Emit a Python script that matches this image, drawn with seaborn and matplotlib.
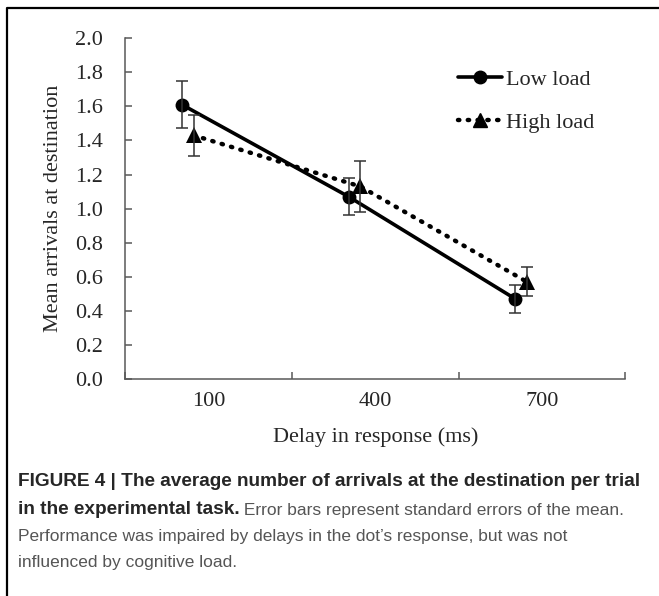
import numpy as np
import pandas as pd
import matplotlib
matplotlib.use("Agg")
import matplotlib.pyplot as plt
import seaborn as sns
from matplotlib.lines import Line2D

# ---------------------------------
# DATA
# ---------------------------------
delays = ["100", "400", "700"]
low_mean = [1.61, 1.07, 0.47]
low_se = [0.14, 0.11, 0.08]
high_mean = [1.43, 1.13, 0.57]
high_se = [0.12, 0.15, 0.085]

df = pd.DataFrame({
    "delay": delays * 2,
    "pos": list(range(len(delays))) * 2,
    "mean": low_mean + high_mean,
    "se": low_se + high_se,
    "load": ["Low load"] * 3 + ["High load"] * 3,
})
# small horizontal shift of each series inside its category (as in the original)
shift = {"Low load": -0.16, "High load": -0.09}
df["x"] = df["pos"] + df["load"].map(shift)

# ---------------------------------
# STYLE
# ---------------------------------
sns.set_style("white")
plt.rcParams["font.family"] = ["Liberation Serif", "DejaVu Serif"]

fig = plt.figure(figsize=(6.59, 5.96), dpi=100)
ax = fig.add_axes([0.19, 0.364, 0.759, 0.572])

axis_col = "#595959"
dots = (0, (0.3, 1.9))

# lines with markers
sns.lineplot(data=df[df["load"] == "Low load"], x="x", y="mean", ax=ax,
             color="black", lw=2.6, marker="o", markersize=10,
             markeredgewidth=0, legend=False)
sns.lineplot(data=df[df["load"] == "High load"], x="x", y="mean", ax=ax,
             color="black", lw=3.2, marker="^", markersize=11,
             markeredgewidth=0, legend=False)
ax.lines[-1].set_linestyle(dots)
ax.lines[-1].set_dash_capstyle("round")

# error bars
for load in ["Low load", "High load"]:
    sub = df[df["load"] == load]
    ax.errorbar(sub["x"], sub["mean"], yerr=sub["se"], fmt="none",
                ecolor="#333333", elinewidth=1.1, capsize=4, capthick=1.1)

# ---------------------------------
# AXES
# ---------------------------------
ax.set_xlim(-0.5, 2.5)
ax.set_ylim(0, 2.0)
ax.set_yticks(np.arange(0, 2.01, 0.2))
ax.set_yticklabels([f"{v:.1f}" for v in np.arange(0, 2.01, 0.2)])
ax.set_xticks(range(len(delays)))
ax.set_xticklabels(delays)
ax.set_xticks([-0.5, 0.5, 1.5, 2.5], minor=True)

for s in ["top", "right"]:
    ax.spines[s].set_visible(False)
for s in ["left", "bottom"]:
    ax.spines[s].set_color(axis_col)
    ax.spines[s].set_linewidth(1.1)

ax.tick_params(axis="y", direction="in", length=5, width=1.1, color=axis_col,
               pad=16, labelsize=16, left=True)
ax.tick_params(axis="x", which="major", length=0, pad=9, labelsize=16)
ax.tick_params(axis="x", which="minor", direction="in", length=5, width=1.1,
               color=axis_col, bottom=True)

ax.set_xlabel("Delay in response (ms)", fontsize=16, labelpad=12)
ax.set_ylabel("Mean arrivals at destination", fontsize=16, labelpad=9)

handles = [
    Line2D([], [], color="black", lw=2.6, marker="o", markersize=9),
    Line2D([], [], color="black", lw=3.2, ls=dots,
           dash_capstyle="round", marker="^", markersize=10),
]
fig.legend(handles, ["Low load", "High load"], loc="center left",
           bbox_to_anchor=(458 / 659, 1 - 101 / 596), frameon=False,
           fontsize=16, handlelength=2.0, handletextpad=0.15,
           labelspacing=1.0, borderpad=0, borderaxespad=0)

# ---------------------------------
# FRAME + CAPTION
# ---------------------------------
fig.add_artist(Line2D([0.011, 0.011, 1.0], [0.0, 0.987, 0.987],
                      transform=fig.transFigure, color="black", lw=1.6))

cap_font = ["Liberation Sans", "DejaVu Sans"]
bold_size = 13.7
reg_size = 12.5
bold_col = "#262626"
reg_col = "#555555"
t1 = fig.text(0.027, 1 - 482 / 596,
              "FIGURE 4 | The average number of arrivals at the destination per trial",
              fontsize=bold_size, fontweight="bold", color=bold_col,
              family=cap_font, va="center")
t2 = fig.text(0.027, 1 - 509 / 596, "in the experimental task.",
              fontsize=bold_size, fontweight="bold", color=bold_col,
              family=cap_font, va="center")
ax.annotate(" Error bars represent standard errors of the mean.",
            xy=(1, 0), xycoords=t2, va="bottom", ha="left",
            fontsize=reg_size, color=reg_col, family=cap_font,
            annotation_clip=False)
fig.text(0.027, 1 - 536 / 596,
         "Performance was impaired by delays in the dot\u2019s response, but was not",
         fontsize=reg_size, color=reg_col, family=cap_font, va="center")
fig.text(0.027, 1 - 562 / 596, "influenced by cognitive load.",
         fontsize=reg_size, color=reg_col, family=cap_font, va="center")

fig.savefig("out.png", dpi=100)
